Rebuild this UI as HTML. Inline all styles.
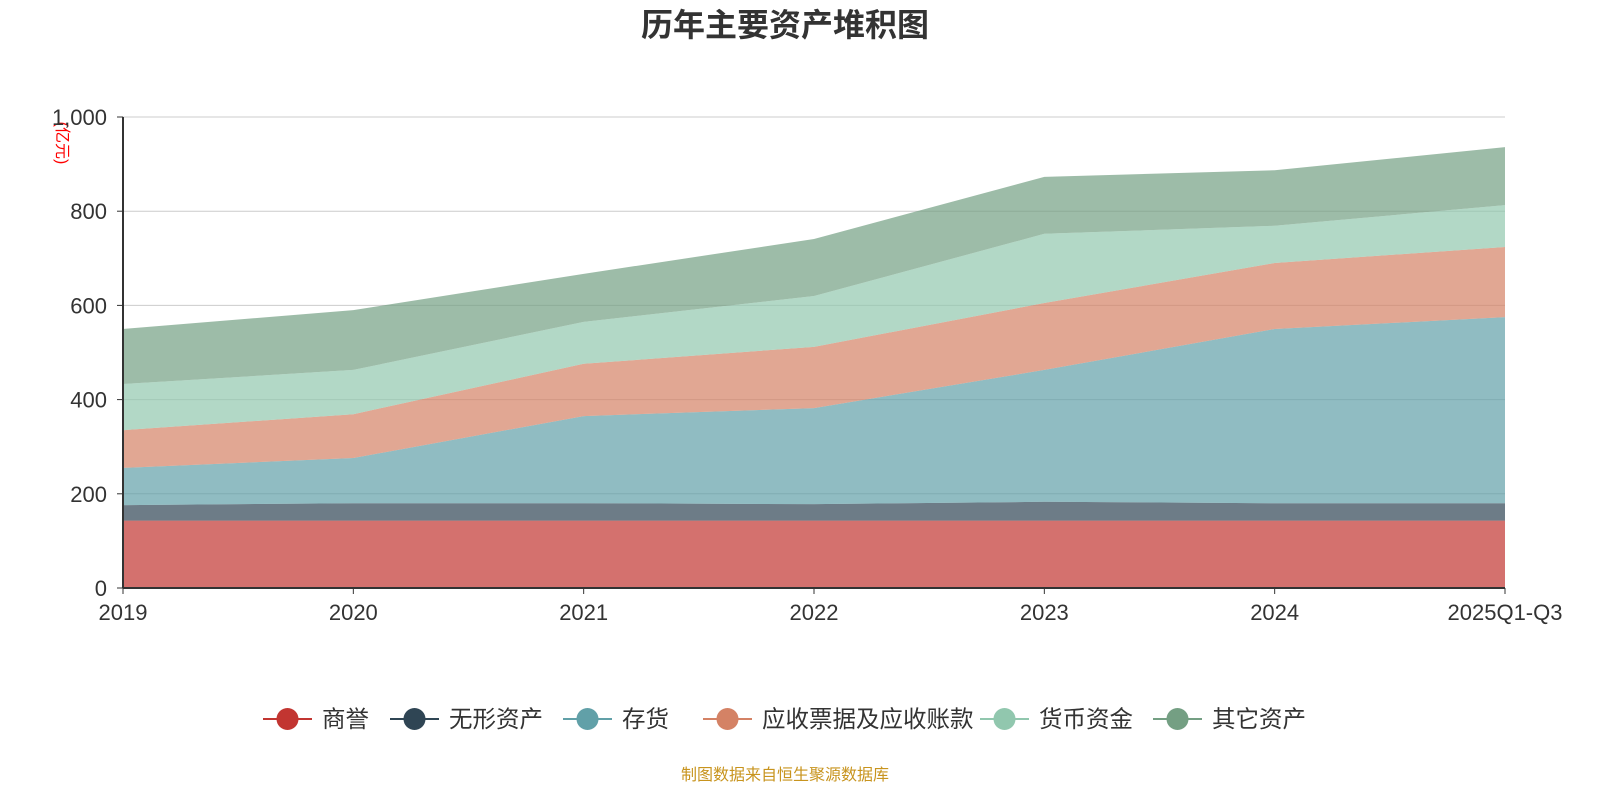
<!DOCTYPE html>
<html><head><meta charset="utf-8"><style>
body{margin:0;background:#fff;width:1600px;height:800px;overflow:hidden;font-family:"Liberation Sans","Noto Sans CJK SC",sans-serif}
</style></head><body>
<svg id="c" width="1600" height="800" xmlns="http://www.w3.org/2000/svg" font-family="Liberation Sans, Noto Sans CJK SC, sans-serif">
<text x="785" y="36" text-anchor="middle" font-size="32" font-weight="bold" fill="#333">历年主要资产堆积图</text>
<text transform="translate(57,143) rotate(90)" text-anchor="middle" font-size="16" fill="#f00">(亿元)</text>
<g id="grid"></g><g id="areas"></g><g id="axes"></g><g id="legend"></g>
<text x="785" y="780" text-anchor="middle" font-size="16" fill="#c8941e">制图数据来自恒生聚源数据库</text>
</svg>
<script>
const categories=["2019","2020","2021","2022","2023","2024","2025Q1-Q3"];
const seriesNames=["商誉","无形资产","存货","应收票据及应收账款","货币资金","其它资产"];
const goodwill=[143,143,143,143,143,143,143];
const intangible=[33,37,37,35,40,37,37];
const inventory=[79,96,185,204,280,370,395];
const receivables=[80,93,111,130,142,140,149];
const cash=[98,94,89,108,147,79,89];
const other=[117,127,102,121,121,118,123];
const yTicks=[0,200,400,600,800,1000];
const yTickLabels=["0","200","400","600","800","1,000"];
const colors=["#c23531","#2f4554","#61a0a8","#d48265","#91c7ae","#749f83"];
const series=[goodwill,intangible,inventory,receivables,cash,other];
const X0=123,X1=1505,Y0=588,Y1=117,YMAX=1000;
const xs=i=>X0+(X1-X0)*i/(categories.length-1);
const ys=v=>Y0-(Y0-Y1)*v/YMAX;
const NS="http://www.w3.org/2000/svg";
function mk(t,a,p){const e=document.createElementNS(NS,t);for(const k in a)e.setAttribute(k,a[k]);p.appendChild(e);return e;}
const grid=document.getElementById('grid'),areas=document.getElementById('areas'),axes=document.getElementById('axes'),legend=document.getElementById('legend');
yTicks.forEach((v,i)=>{
 if(v>0){const l=mk('line',{x1:X0,x2:X1,y1:ys(v),y2:ys(v),stroke:'#ccc'},grid);
 
 }
 mk('line',{x1:X0-6,x2:X0,y1:ys(v),y2:ys(v),stroke:'#333'},axes);
 const t=mk('text',{x:X0-16,y:ys(v)+8,'text-anchor':'end','font-size':22,fill:'#333'},axes);
 t.textContent=yTickLabels[i];
 
 
});
let base=categories.map(()=>0);
series.forEach((s,si)=>{
 const top=base.map((b,i)=>b+s[i]);
 let d='M'+top.map((v,i)=>xs(i)+','+ys(v)).join('L');
 for(let i=categories.length-1;i>=0;i--)d+='L'+xs(i)+','+ys(base[i]);
 const p=mk('path',{d:d+'Z',fill:colors[si],'fill-opacity':0.7,stroke:'none'},areas);
 
 
 base=top;
});
mk('line',{x1:X0,x2:X0,y1:Y1,y2:Y0,stroke:'#333','stroke-width':2},axes);
mk('line',{x1:X0,x2:X1,y1:Y0,y2:Y0,stroke:'#333','stroke-width':2},axes);
categories.forEach((c,i)=>{
 mk('line',{x1:xs(i),x2:xs(i),y1:Y0,y2:Y0+6,stroke:'#333'},axes);
 const t=mk('text',{x:xs(i),y:Y0+32,'text-anchor':'middle','font-size':22,fill:'#333'},axes);
 t.textContent=c;
 
 
});
const lx=[263,390,563,703,980,1153];
seriesNames.forEach((n,i)=>{
 const g=mk('g',{},legend);
 
 
 mk('line',{x1:lx[i],x2:lx[i]+49,y1:719,y2:719,stroke:colors[i],'stroke-width':2},g);
 mk('circle',{cx:lx[i]+24.5,cy:719,r:11,fill:colors[i]},g);
 const t=mk('text',{x:lx[i]+59,y:727,'font-size':23.5,fill:'#333'},g);
 t.textContent=n;
});
</script>
</body></html>
